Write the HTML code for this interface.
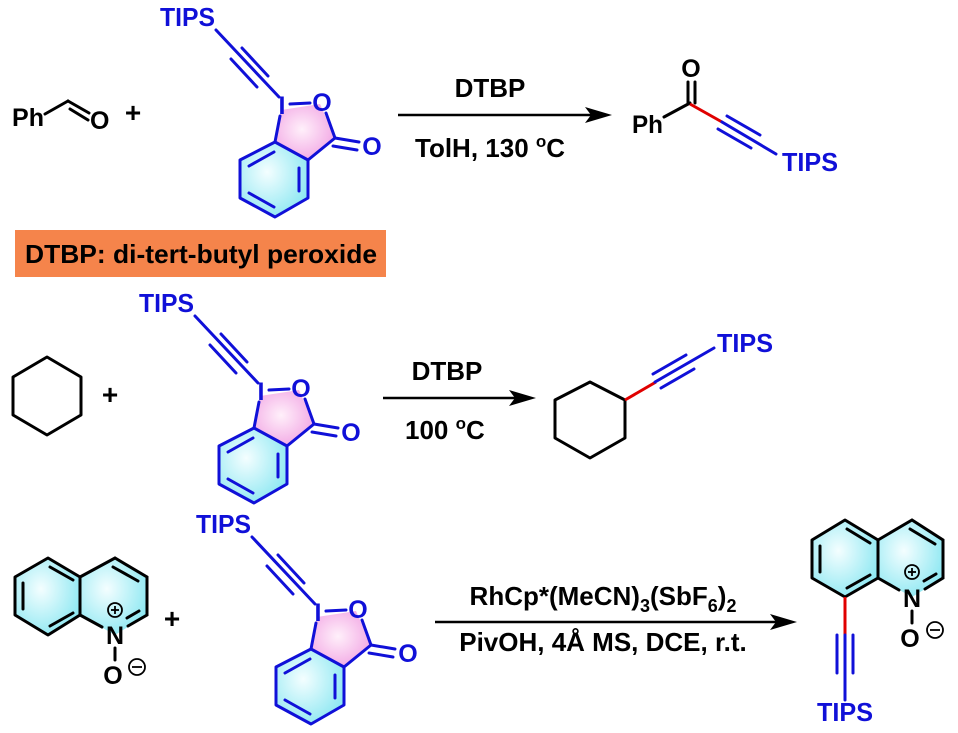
<!DOCTYPE html>
<html><head><meta charset="utf-8"><style>
html,body{margin:0;padding:0;background:#fff;}
svg{display:block;font-family:"Liberation Sans",Arial,sans-serif;font-weight:bold;}
.b{stroke:#1010d8;stroke-width:3;fill:none;stroke-linecap:round;}
.k{stroke:#000;stroke-width:3;fill:none;stroke-linecap:round;}
.r{stroke:#e00000;stroke-width:3;fill:none;}
.bt{fill:#1010d8;}
</style></head><body>
<svg width="958" height="733" viewBox="0 0 958 733" xmlns="http://www.w3.org/2000/svg">
<defs>
<radialGradient id="pk" cx="0.45" cy="0.45" r="0.6"><stop offset="0" stop-color="#fff0fa"/><stop offset="1" stop-color="#f2a6e4"/></radialGradient>
<radialGradient id="cy" cx="0.4" cy="0.4" r="0.65"><stop offset="0" stop-color="#f4feff"/><stop offset="1" stop-color="#8ee8f2"/></radialGradient>
</defs>

<!-- Reaction 1 reactants -->
<text x="12" y="126" font-size="25" textLength="32" lengthAdjust="spacingAndGlyphs">Ph</text>
<line class="k" x1="45" y1="114" x2="68" y2="101"/>
<line class="k" x1="68" y1="101" x2="89" y2="113"/>
<line class="k" x1="70" y1="109" x2="88" y2="120"/>
<text x="90" y="129" font-size="25">O</text>
<text x="133" y="122" font-size="28" text-anchor="middle">+</text>

<!-- EBX 1 -->
<g>
<polygon points="281,110 320,104 335,138 308,160 275,142" fill="url(#pk)"/>
<polygon points="275,142 308,160 308,198 275,217 240,198 240,160" fill="url(#cy)"/>
<text x="160" y="26" font-size="26" class="bt" textLength="55" lengthAdjust="spacingAndGlyphs">TIPS</text>
<line class="b" x1="216" y1="30" x2="279" y2="97"/>
<line class="b" x1="242" y1="48" x2="268" y2="76"/>
<line class="b" x1="231" y1="59" x2="257" y2="87"/>
<text x="282" y="114" font-size="25" class="bt" text-anchor="middle">I</text>
<line class="b" x1="290" y1="104" x2="310" y2="103"/>
<text x="322" y="111" font-size="25" class="bt" text-anchor="middle">O</text>
<line class="b" x1="326" y1="113" x2="335" y2="138"/>
<line class="b" x1="335" y1="138" x2="359" y2="142"/>
<line class="b" x1="333" y1="146" x2="357" y2="150"/>
<text x="372" y="155" font-size="25" class="bt" text-anchor="middle">O</text>
<line class="b" x1="280" y1="116" x2="275" y2="142"/>
<line class="b" x1="335" y1="138" x2="308" y2="160"/>
<polygon class="b" points="275,142 308,160 308,198 275,217 240,198 240,160" stroke-linejoin="round"/>
<line class="b" x1="249" y1="166" x2="274" y2="152"/>
<line class="b" x1="299" y1="168" x2="299" y2="191"/>
<line class="b" x1="249" y1="193" x2="274" y2="207"/>
</g>

<!-- Arrow 1 -->
<line x1="398" y1="115" x2="592" y2="115" stroke="#000" stroke-width="2.5"/>
<polygon points="612,115 585,107 591,115 585,123" fill="#000"/>
<text x="490" y="97" font-size="26" text-anchor="middle">DTBP</text>
<text x="415" y="157" font-size="26">TolH, 130 <tspan font-size="17" dy="-10">o</tspan><tspan dy="10">C</tspan></text>

<!-- Product 1 -->
<text x="632" y="133" font-size="25" textLength="31" lengthAdjust="spacingAndGlyphs">Ph</text>
<line class="k" x1="664" y1="117" x2="690" y2="103"/>
<line class="k" x1="688" y1="103" x2="688" y2="82"/>
<line class="k" x1="695" y1="103" x2="695" y2="82"/>
<text x="691" y="77" font-size="25" text-anchor="middle">O</text>
<line class="r" x1="690" y1="104" x2="722" y2="122"/>
<line class="b" x1="722" y1="122" x2="776" y2="154"/>
<line class="b" x1="727" y1="116" x2="760" y2="135"/>
<line class="b" x1="718" y1="129" x2="751" y2="148"/>
<text x="782" y="171" font-size="26" class="bt" textLength="56" lengthAdjust="spacingAndGlyphs">TIPS</text>

<!-- Orange box -->
<rect x="15" y="230" width="371" height="47" fill="#f5844b"/>
<text x="25" y="263" font-size="26" textLength="352" lengthAdjust="spacingAndGlyphs">DTBP: di-tert-butyl peroxide</text>

<!-- Reaction 2 -->
<polygon class="k" points="47,357 81,377 81,415 47,435 13,415 13,377" fill="url(#cy)" stroke-linejoin="round"/>
<text x="110" y="404" font-size="28" text-anchor="middle">+</text>

<g transform="translate(-21,286)">
<polygon points="281,110 320,104 335,138 308,160 275,142" fill="url(#pk)"/>
<polygon points="275,142 308,160 308,198 275,217 240,198 240,160" fill="url(#cy)"/>
<text x="160" y="26" font-size="26" class="bt" textLength="55" lengthAdjust="spacingAndGlyphs">TIPS</text>
<line class="b" x1="216" y1="30" x2="279" y2="97"/>
<line class="b" x1="242" y1="48" x2="268" y2="76"/>
<line class="b" x1="231" y1="59" x2="257" y2="87"/>
<text x="282" y="114" font-size="25" class="bt" text-anchor="middle">I</text>
<line class="b" x1="290" y1="104" x2="310" y2="103"/>
<text x="322" y="111" font-size="25" class="bt" text-anchor="middle">O</text>
<line class="b" x1="326" y1="113" x2="335" y2="138"/>
<line class="b" x1="335" y1="138" x2="359" y2="142"/>
<line class="b" x1="333" y1="146" x2="357" y2="150"/>
<text x="372" y="155" font-size="25" class="bt" text-anchor="middle">O</text>
<line class="b" x1="280" y1="116" x2="275" y2="142"/>
<line class="b" x1="335" y1="138" x2="308" y2="160"/>
<polygon class="b" points="275,142 308,160 308,198 275,217 240,198 240,160" stroke-linejoin="round"/>
<line class="b" x1="249" y1="166" x2="274" y2="152"/>
<line class="b" x1="299" y1="168" x2="299" y2="191"/>
<line class="b" x1="249" y1="193" x2="274" y2="207"/>
</g>

<line x1="383" y1="398" x2="515" y2="398" stroke="#000" stroke-width="2.5"/>
<polygon points="536,398 509,390 515,398 509,406" fill="#000"/>
<text x="447" y="380" font-size="26" text-anchor="middle">DTBP</text>
<text x="405" y="439" font-size="26">100 <tspan font-size="17" dy="-10">o</tspan><tspan dy="10">C</tspan></text>

<polygon class="k" points="590,382 625,400 625,438 590,458 555,438 555,400" fill="url(#cy)" stroke-linejoin="round"/>
<line class="r" x1="625" y1="400" x2="656" y2="382"/>
<line class="b" x1="655" y1="382" x2="714" y2="348"/>
<line class="b" x1="653" y1="374" x2="686" y2="355"/>
<line class="b" x1="661" y1="388" x2="694" y2="369"/>
<text x="717" y="352" font-size="26" class="bt" textLength="56" lengthAdjust="spacingAndGlyphs">TIPS</text>

<!-- Reaction 3 reactant: quinoline N-oxide -->
<polygon points="48,558 80,577 80,615 48,635 15,615 15,577" fill="url(#cy)"/>
<polygon points="80,577 115,558 147,577 147,615 115,635 80,615" fill="url(#cy)"/>
<polygon class="k" points="48,558 80,577 80,615 48,635 15,615 15,577" stroke-linejoin="round"/>
<polyline class="k" points="80,577 115,558 147,577 147,615 128,626"/>
<line class="k" x1="80" y1="615" x2="102" y2="627"/>
<line class="k" x1="23" y1="583" x2="23" y2="609"/>
<line class="k" x1="50" y1="567" x2="73" y2="580"/>
<line class="k" x1="50" y1="626" x2="73" y2="613"/>
<line class="k" x1="113" y1="567" x2="138" y2="581"/>
<line class="k" x1="127" y1="618" x2="139" y2="611"/>
<text x="115" y="644" font-size="25" text-anchor="middle">N</text>
<circle cx="115" cy="610" r="7" fill="none" stroke="#000" stroke-width="1.8"/>
<line x1="111" y1="610" x2="119" y2="610" stroke="#000" stroke-width="1.8"/>
<line x1="115" y1="606" x2="115" y2="614" stroke="#000" stroke-width="1.8"/>
<line class="k" x1="115" y1="648" x2="115" y2="660"/>
<text x="113" y="684" font-size="25" text-anchor="middle">O</text>
<circle cx="137" cy="667" r="8" fill="none" stroke="#000" stroke-width="1.8"/>
<line x1="132" y1="667" x2="142" y2="667" stroke="#000" stroke-width="1.8"/>
<text x="172" y="628" font-size="28" text-anchor="middle">+</text>

<g transform="translate(36,507)">
<polygon points="281,110 320,104 335,138 308,160 275,142" fill="url(#pk)"/>
<polygon points="275,142 308,160 308,198 275,217 240,198 240,160" fill="url(#cy)"/>
<text x="160" y="26" font-size="26" class="bt" textLength="55" lengthAdjust="spacingAndGlyphs">TIPS</text>
<line class="b" x1="216" y1="30" x2="279" y2="97"/>
<line class="b" x1="242" y1="48" x2="268" y2="76"/>
<line class="b" x1="231" y1="59" x2="257" y2="87"/>
<text x="282" y="114" font-size="25" class="bt" text-anchor="middle">I</text>
<line class="b" x1="290" y1="104" x2="310" y2="103"/>
<text x="322" y="111" font-size="25" class="bt" text-anchor="middle">O</text>
<line class="b" x1="326" y1="113" x2="335" y2="138"/>
<line class="b" x1="335" y1="138" x2="359" y2="142"/>
<line class="b" x1="333" y1="146" x2="357" y2="150"/>
<text x="372" y="155" font-size="25" class="bt" text-anchor="middle">O</text>
<line class="b" x1="280" y1="116" x2="275" y2="142"/>
<line class="b" x1="335" y1="138" x2="308" y2="160"/>
<polygon class="b" points="275,142 308,160 308,198 275,217 240,198 240,160" stroke-linejoin="round"/>
<line class="b" x1="249" y1="166" x2="274" y2="152"/>
<line class="b" x1="299" y1="168" x2="299" y2="191"/>
<line class="b" x1="249" y1="193" x2="274" y2="207"/>
</g>

<!-- Arrow 3 -->
<line x1="435" y1="622" x2="776" y2="622" stroke="#000" stroke-width="2.5"/>
<polygon points="797,622 770,614 776,622 770,630" fill="#000"/>
<text x="603" y="605" font-size="26" text-anchor="middle">RhCp*(MeCN)<tspan font-size="18" dy="7">3</tspan><tspan dy="-7">(SbF</tspan><tspan font-size="18" dy="7">6</tspan><tspan dy="-7">)</tspan><tspan font-size="18" dy="7">2</tspan></text>
<text x="603" y="651" font-size="26" text-anchor="middle">PivOH, 4Å MS, DCE, r.t.</text>

<!-- Product 3 -->
<polygon points="845,520 878,540 878,578 845,597 812,578 812,540" fill="url(#cy)"/>
<polygon points="878,540 912,520 943,540 943,578 912,597 878,578" fill="url(#cy)"/>
<polygon class="k" points="845,520 878,540 878,578 845,597 812,578 812,540" stroke-linejoin="round"/>
<polyline class="k" points="878,540 912,520 943,540 943,578 925,589"/>
<line class="k" x1="878" y1="578" x2="899" y2="590"/>
<line class="k" x1="820" y1="546" x2="820" y2="572"/>
<line class="k" x1="847" y1="529" x2="870" y2="543"/>
<line class="k" x1="847" y1="588" x2="870" y2="575"/>
<line class="k" x1="910" y1="529" x2="935" y2="544"/>
<line class="k" x1="924" y1="581" x2="936" y2="574"/>
<text x="912" y="607" font-size="25" text-anchor="middle">N</text>
<circle cx="912" cy="572" r="7" fill="none" stroke="#000" stroke-width="1.8"/>
<line x1="908" y1="572" x2="916" y2="572" stroke="#000" stroke-width="1.8"/>
<line x1="912" y1="568" x2="912" y2="576" stroke="#000" stroke-width="1.8"/>
<line class="k" x1="912" y1="611" x2="912" y2="623"/>
<text x="910" y="647" font-size="25" text-anchor="middle">O</text>
<circle cx="935" cy="630" r="8" fill="none" stroke="#000" stroke-width="1.8"/>
<line x1="930" y1="630" x2="940" y2="630" stroke="#000" stroke-width="1.8"/>
<line class="r" x1="845" y1="597" x2="845" y2="635"/>
<line class="b" x1="845" y1="635" x2="845" y2="700"/>
<line class="b" x1="837" y1="635" x2="837" y2="673"/>
<line class="b" x1="853" y1="635" x2="853" y2="673"/>
<text x="845" y="721" font-size="26" class="bt" text-anchor="middle" textLength="56" lengthAdjust="spacingAndGlyphs">TIPS</text>
</svg>
</body></html>
